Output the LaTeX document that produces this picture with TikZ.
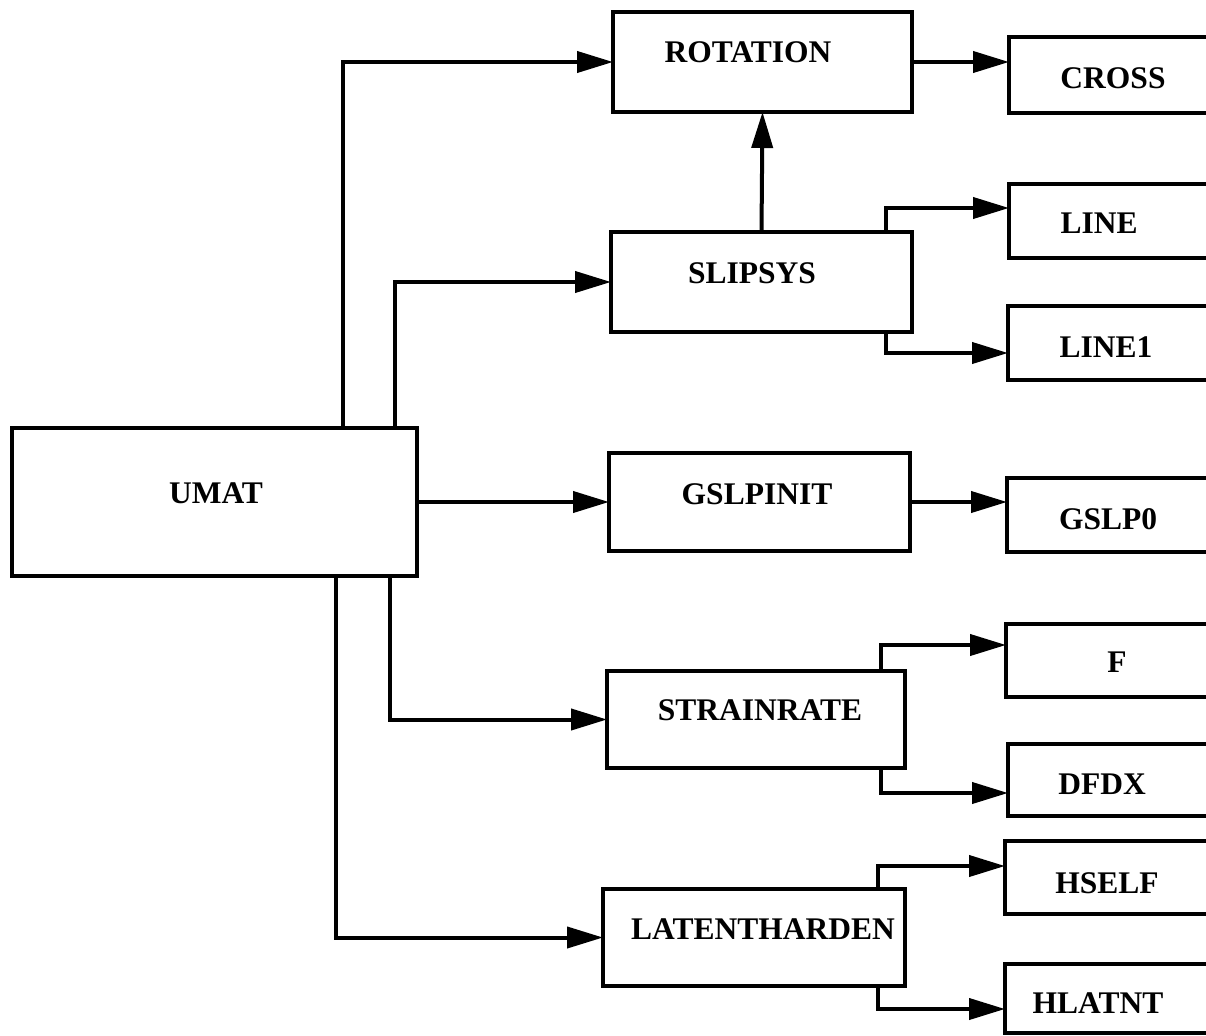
\documentclass[tikz,border=0pt]{standalone}
\usepackage{fontspec}
\setmainfont{Liberation Serif}
\usetikzlibrary{arrows.meta}
\begin{document}
\begin{tikzpicture}[x=1pt,y=-1pt,
  box/.style={draw=black,line width=4.5pt,inner sep=0pt,outer sep=0pt},
  lbl/.style={anchor=base,inner sep=0pt,font=\fontsize{31.5}{36}\selectfont\bfseries},
  arr/.style={line width=4pt,-{Triangle[length=36pt,width=21pt]}}]
\useasboundingbox[fill=white] (0,0) rectangle (1206,1035);
% boxes
\node[box,minimum width=405,minimum height=148] (umat) at (214.5,502) {};
\node[box,minimum width=299,minimum height=100] (rot) at (762.5,62) {};
\node[box,minimum width=301,minimum height=100] (slip) at (761.5,282) {};
\node[box,minimum width=301,minimum height=98] (gsi) at (759.5,502) {};
\node[box,minimum width=298,minimum height=97] (str) at (756,719.5) {};
\node[box,minimum width=302,minimum height=97] (lat) at (754,937.5) {};
\node[box,minimum width=211,minimum height=76] (cross) at (1114.5,75) {};
\node[box,minimum width=211,minimum height=74] (line) at (1114.5,221) {};
\node[box,minimum width=212,minimum height=74] (lineone) at (1114,343) {};
\node[box,minimum width=213,minimum height=74] (gszero) at (1113.5,515) {};
\node[box,minimum width=214,minimum height=73] (f) at (1113,660.5) {};
\node[box,minimum width=212,minimum height=72] (dfdx) at (1114,780) {};
\node[box,minimum width=215,minimum height=73] (hself) at (1112.5,877.5) {};
\node[box,minimum width=215,minimum height=69] (hlat) at (1112.5,998.5) {};
% labels
\node[lbl] (tumat) at (216,503) {UMAT};
\node[lbl] (trot) at (748,63) {ROTATION};
\node[lbl] (tslip) at (752,283) {SLIPSYS};
\node[lbl] (tgsi) at (757,504) {GSLPINIT};
\node[lbl] (tstr) at (760,720) {STRAINRATE};
\node[lbl] (tlat) at (763,939) {LATENTHARDEN};
\node[lbl] (tcross) at (1113,89) {CROSS};
\node[lbl] (tline) at (1099,233) {LINE};
\node[lbl] (tlineone) at (1106,357) {LINE1};
\node[lbl] (tgszero) at (1108,529) {GSLP0};
\node[lbl] (tf) at (1117,672) {F};
\node[lbl] (tdfdx) at (1102,794) {DFDX};
\node[lbl] (thself) at (1107,893) {HSELF};
\node[lbl] (thlat) at (1098,1013) {HLATNT};
% connectors from UMAT
\draw[arr] ([xshift=331pt]umat.north west) |- (rot.west);
\draw[arr] ([xshift=383pt]umat.north west) |- (slip.west);
\draw[arr] (umat.east) -- (gsi.west);
\draw[arr] ([xshift=378pt]umat.south west) |- (str.west);
\draw[arr] ([xshift=324pt]umat.south west) |- (lat.west);
% second level
\draw[arr] (rot.east) -- (rot.east -| cross.west);
\draw[arr] (slip.north) -- (rot.south);
\draw[arr] ([xshift=-26pt]slip.north east) |- ([yshift=13pt]line.west);
\draw[arr] ([xshift=-26pt]slip.south east) |- ([yshift=-10pt]lineone.west);
\draw[arr] (gsi.east) -- (gsi.east -| gszero.west);
\draw[arr] ([xshift=-24pt]str.north east) |- ([yshift=15.5pt]f.west);
\draw[arr] ([xshift=-24pt]str.south east) |- ([yshift=-13pt]dfdx.west);
\draw[arr] ([xshift=-27pt]lat.north east) |- ([yshift=11.5pt]hself.west);
\draw[arr] ([xshift=-27pt]lat.south east) |- ([yshift=-10.5pt]hlat.west);
\end{tikzpicture}
\end{document}
